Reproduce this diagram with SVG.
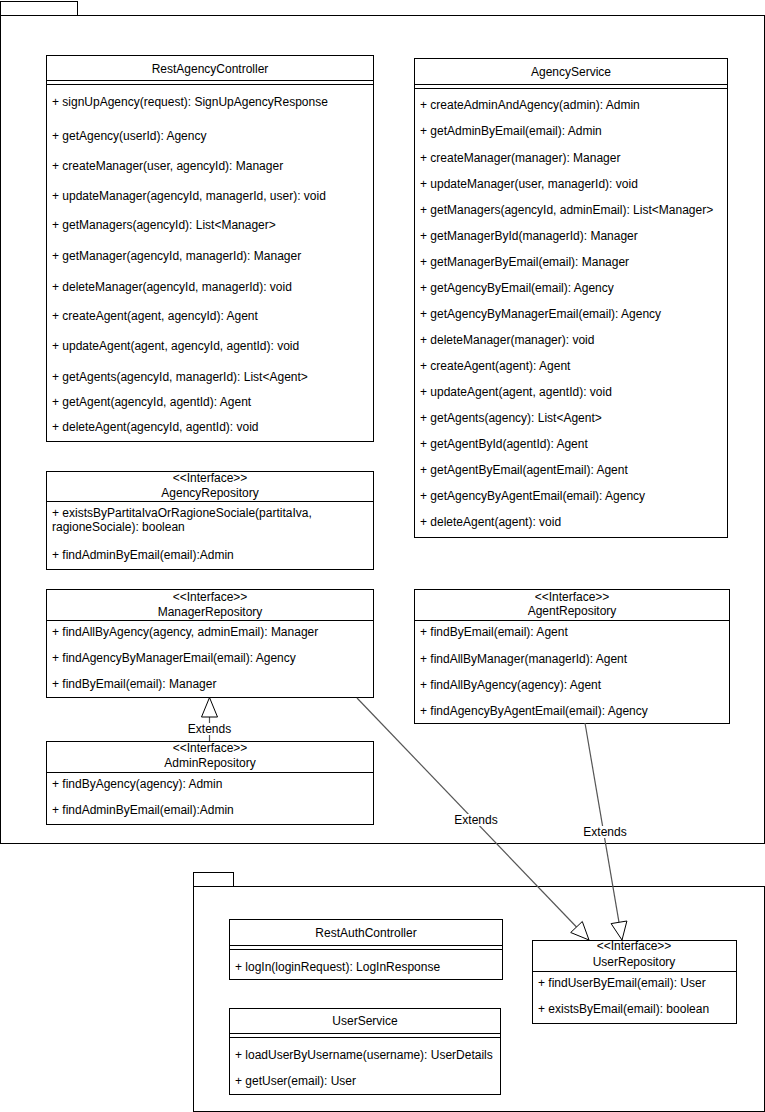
<svg xmlns="http://www.w3.org/2000/svg" width="765" height="1112" viewBox="0 0 765 1112">
<style>
text{font-family:"Liberation Sans",Arial,sans-serif;font-size:12px;fill:#000}
.c{text-anchor:middle}
.box{fill:#fff;stroke:#000;stroke-width:1}
.ln{stroke:#000;stroke-width:1;fill:none}
.pkg{fill:#fff;stroke:#000;stroke-width:1}
.con{stroke:#555;stroke-width:1.2;fill:none}
.tri{fill:#fff;stroke:#000;stroke-width:1}
.lbl{fill:#fff;stroke:none}
</style>
<rect width="765" height="1112" fill="#fff"/>
<g id="pkg-agency">
<rect class="pkg" x="0.5" y="1.5" width="77" height="14"/>
<rect class="pkg" x="0.5" y="15.5" width="764" height="828"/>
</g>
<g id="pkg-auth">
<rect class="pkg" x="193.5" y="872.5" width="40" height="14"/>
<rect class="pkg" x="193.5" y="886.5" width="571" height="225"/>
</g>
<g id="RestAgencyController">
<rect class="box" x="46.5" y="55.5" width="327" height="386"/>
<line class="ln" x1="46.5" y1="80.5" x2="373.5" y2="80.5"/>
<line class="ln" x1="46.5" y1="84.5" x2="373.5" y2="84.5"/>
<text class="c" x="210" y="73">RestAgencyController</text>
<text x="52" y="106">+ signUpAgency(request): SignUpAgencyResponse</text>
<text x="52" y="140">+ getAgency(userId): Agency</text>
<text x="52" y="170">+ createManager(user, agencyId): Manager</text>
<text x="52" y="200">+ updateManager(agencyId, managerId, user): void</text>
<text x="52" y="229">+ getManagers(agencyId): List&lt;Manager&gt;</text>
<text x="52" y="260">+ getManager(agencyId, managerId): Manager</text>
<text x="52" y="291">+ deleteManager(agencyId, managerId): void</text>
<text x="52" y="320">+ createAgent(agent, agencyId): Agent</text>
<text x="52" y="350">+ updateAgent(agent, agencyId, agentId): void</text>
<text x="52" y="381">+ getAgents(agencyId, managerId): List&lt;Agent&gt;</text>
<text x="52" y="406">+ getAgent(agencyId, agentId): Agent</text>
<text x="52" y="431">+ deleteAgent(agencyId, agentId): void</text>
</g>
<g id="AgencyService">
<rect class="box" x="414.5" y="58.5" width="313" height="479"/>
<line class="ln" x1="414.5" y1="84.5" x2="727.5" y2="84.5"/>
<line class="ln" x1="414.5" y1="88.5" x2="727.5" y2="88.5"/>
<text class="c" x="571" y="76">AgencyService</text>
<text x="420" y="109">+ createAdminAndAgency(admin): Admin</text>
<text x="420" y="135">+ getAdminByEmail(email): Admin</text>
<text x="420" y="162">+ createManager(manager): Manager</text>
<text x="420" y="188">+ updateManager(user, managerId): void</text>
<text x="420" y="214">+ getManagers(agencyId, adminEmail): List&lt;Manager&gt;</text>
<text x="420" y="240">+ getManagerById(managerId): Manager</text>
<text x="420" y="266">+ getManagerByEmail(email): Manager</text>
<text x="420" y="292">+ getAgencyByEmail(email): Agency</text>
<text x="420" y="318">+ getAgencyByManagerEmail(email): Agency</text>
<text x="420" y="344">+ deleteManager(manager): void</text>
<text x="420" y="370">+ createAgent(agent): Agent</text>
<text x="420" y="396">+ updateAgent(agent, agentId): void</text>
<text x="420" y="422">+ getAgents(agency): List&lt;Agent&gt;</text>
<text x="420" y="448">+ getAgentById(agentId): Agent</text>
<text x="420" y="474">+ getAgentByEmail(agentEmail): Agent</text>
<text x="420" y="500">+ getAgencyByAgentEmail(email): Agency</text>
<text x="420" y="526">+ deleteAgent(agent): void</text>
</g>
<g id="AgencyRepository">
<rect class="box" x="46.5" y="471.5" width="327" height="98"/>
<line class="ln" x1="46.5" y1="501.5" x2="373.5" y2="501.5"/>
<text class="c" x="210" y="482">&lt;&lt;Interface&gt;&gt;</text>
<text class="c" x="210" y="497">AgencyRepository</text>
<text x="52" y="517">+ existsByPartitaIvaOrRagioneSociale(partitaIva,</text>
<text x="52" y="531">ragioneSociale): boolean</text>
<text x="52" y="559">+ findAdminByEmail(email):Admin</text>
</g>
<g id="ManagerRepository">
<rect class="box" x="46.5" y="589.5" width="327" height="108"/>
<line class="ln" x1="46.5" y1="620.5" x2="373.5" y2="620.5"/>
<text class="c" x="210" y="601">&lt;&lt;Interface&gt;&gt;</text>
<text class="c" x="210" y="616">ManagerRepository</text>
<text x="52" y="636">+ findAllByAgency(agency, adminEmail): Manager</text>
<text x="52" y="662">+ findAgencyByManagerEmail(email): Agency</text>
<text x="52" y="688">+ findByEmail(email): Manager</text>
</g>
<g id="AdminRepository">
<rect class="box" x="46.5" y="741.5" width="327" height="83"/>
<line class="ln" x1="46.5" y1="772.5" x2="373.5" y2="772.5"/>
<text class="c" x="210" y="752">&lt;&lt;Interface&gt;&gt;</text>
<text class="c" x="210" y="767">AdminRepository</text>
<text x="52" y="788">+ findByAgency(agency): Admin</text>
<text x="52" y="814">+ findAdminByEmail(email):Admin</text>
</g>
<g id="AgentRepository">
<rect class="box" x="414.5" y="589.5" width="315" height="134"/>
<line class="ln" x1="414.5" y1="620.5" x2="729.5" y2="620.5"/>
<text class="c" x="572" y="601">&lt;&lt;Interface&gt;&gt;</text>
<text class="c" x="572" y="615">AgentRepository</text>
<text x="420" y="636">+ findByEmail(email): Agent</text>
<text x="420" y="663">+ findAllByManager(managerId): Agent</text>
<text x="420" y="689">+ findAllByAgency(agency): Agent</text>
<text x="420" y="715">+ findAgencyByAgentEmail(email): Agency</text>
</g>
<g id="RestAuthController">
<rect class="box" x="229.5" y="919.5" width="273" height="60"/>
<line class="ln" x1="229.5" y1="945.5" x2="502.5" y2="945.5"/>
<line class="ln" x1="229.5" y1="949.5" x2="502.5" y2="949.5"/>
<text class="c" x="366" y="937">RestAuthController</text>
<text x="235" y="971">+ logIn(loginRequest): LogInResponse</text>
</g>
<g id="UserService">
<rect class="box" x="229.5" y="1008.5" width="271" height="86"/>
<line class="ln" x1="229.5" y1="1033.5" x2="500.5" y2="1033.5"/>
<line class="ln" x1="229.5" y1="1037.5" x2="500.5" y2="1037.5"/>
<text class="c" x="365" y="1025">UserService</text>
<text x="235" y="1059">+ loadUserByUsername(username): UserDetails</text>
<text x="235" y="1085">+ getUser(email): User</text>
</g>
<g id="UserRepository">
<rect class="box" x="532.5" y="940.5" width="204" height="83"/>
<line class="ln" x1="532.5" y1="971.5" x2="736.5" y2="971.5"/>
<text class="c" x="634" y="950">&lt;&lt;Interface&gt;&gt;</text>
<text class="c" x="634" y="966">UserRepository</text>
<text x="538" y="987">+ findUserByEmail(email): User</text>
<text x="538" y="1013">+ existsByEmail(email): boolean</text>
</g>
<g id="connectors">
<line class="con" x1="209.5" y1="741" x2="209.5" y2="717"/>
<polygon class="tri" points="209.5,697.5 201.5,717 217.5,717"/>
<rect class="lbl" x="188" y="723" width="43" height="12"/>
<text class="c" x="209.5" y="733">Extends</text>
<line class="con" x1="357" y1="698" x2="576.5" y2="927"/>
<polygon class="tri" points="589,940 570.7,932.5 582.3,921.5"/>
<rect class="lbl" x="455" y="814" width="43" height="12"/>
<text class="c" x="476" y="824">Extends</text>
<line class="con" x1="585" y1="723" x2="619" y2="922.3"/>
<polygon class="tri" points="622,940 611.1,923.6 626.9,921"/>
<rect class="lbl" x="584" y="826" width="43" height="12"/>
<text class="c" x="605" y="836">Extends</text>
</g>
</svg>
